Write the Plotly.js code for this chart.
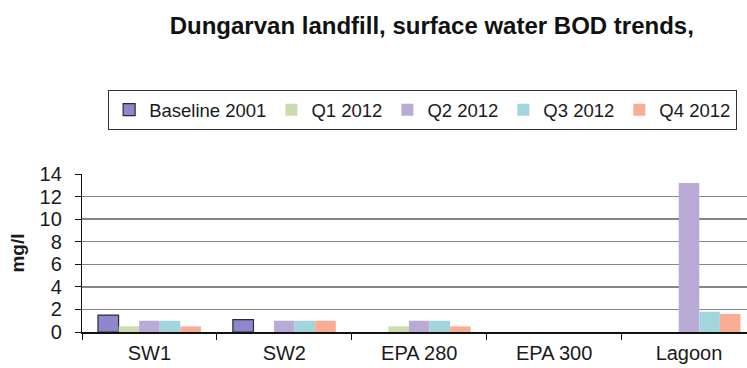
<!DOCTYPE html>
<html>
<head>
<meta charset="utf-8">
<script src="https://cdn.plot.ly/plotly-3.0.1.min.js"></script>
<style>
  html, body { margin: 0; padding: 0; background: #fff; }
  #chart { width: 747px; height: 368px; }
</style>
</head>
<body>
<div id="chart"></div>
<script>
// Sampling sites along the x axis
const sites = ['SW1', 'SW2', 'EPA 280', 'EPA 300', 'Lagoon'];

// BOD (mg/l) per sampling round; null = no result
const baseline2001 = [1.5, 1.1, null, null, null];
const q1_2012 = [0.5, null, 0.5, null, null];
const q2_2012 = [1.0, 1.0, 1.0, null, 13.2];
const q3_2012 = [1.0, 1.0, 1.0, null, 1.8];
const q4_2012 = [0.5, 1.0, 0.5, null, 1.6];

const seriesNames = ['Baseline 2001', 'Q1 2012', 'Q2 2012', 'Q3 2012', 'Q4 2012'];
const seriesValues = [baseline2001, q1_2012, q2_2012, q3_2012, q4_2012];
const seriesColors = ['#8d88cc', '#cbdcae', '#b9abd6', '#a3d6dc', '#f8ad94'];
const seriesOutline = ['#2a2a3a', 'rgba(0,0,0,0)', 'rgba(0,0,0,0)', 'rgba(0,0,0,0)', 'rgba(0,0,0,0)'];

const traces = seriesNames.map((name, i) => ({
  type: 'bar',
  name: name,
  x: sites,
  y: seriesValues[i],
  marker: {
    color: seriesColors[i],
    line: { color: seriesOutline[i], width: i === 0 ? 1.2 : 0 }
  },
  hoverinfo: 'x+y+name'
}));

const font = { family: 'Arial, "Liberation Sans", sans-serif', color: '#1a1a1a' };

const layout = {
  width: 747,
  height: 368,
  margin: { l: 82, r: 0, t: 174, b: 36, autoexpand: false },
  paper_bgcolor: '#ffffff',
  plot_bgcolor: '#ffffff',
  font: Object.assign({ size: 20 }, font),
  title: {
    text: '<b>Dungarvan landfill, surface water BOD trends,</b>',
    font: Object.assign({}, font, { size: 24, color: '#111' }),
    x: 0.578,
    xanchor: 'center',
    xref: 'container',
    y: 0.93,
    yanchor: 'middle',
    yref: 'container'
  },
  barmode: 'group',
  bargap: 0.237,
  bargroupgap: 0,
  xaxis: {
    type: 'category',
    range: [-0.5, 4.43],
    showline: true,
    linecolor: '#111',
    linewidth: 1.5,
    ticks: 'outside',
    tickson: 'boundaries',
    ticklen: 6,
    tickcolor: '#111',
    tickfont: Object.assign({}, font, { size: 20 }),
    ticklabelstandoff: 2,
    showgrid: false,
    zeroline: false,
    fixedrange: true
  },
  yaxis: {
    range: [0, 14],
    dtick: 2,
    showline: true,
    linecolor: '#111',
    linewidth: 1.2,
    ticks: 'outside',
    ticklen: 6,
    tickcolor: '#111',
    tickfont: Object.assign({}, font, { size: 20 }),
    ticklabelstandoff: 9,
    showgrid: true,
    gridcolor: '#858585',
    gridwidth: 1.5,
    zeroline: false,
    title: {
      text: '<b>mg/l</b>',
      font: Object.assign({}, font, { size: 19 }),
      standoff: 9
    },
    fixedrange: true
  },
  showlegend: true,
  legend: {
    orientation: 'h',
    x: 0.039,
    xanchor: 'left',
    y: 1.532,
    yanchor: 'top',
    bordercolor: '#333',
    borderwidth: 1.2,
    bgcolor: '#fff',
    font: Object.assign({}, font, { size: 18.5 }),
    itemwidth: 30,
    traceorder: 'normal'
  }
};

Plotly.newPlot('chart', traces, layout, { displayModeBar: false, staticPlot: true });
</script>
</body>
</html>
